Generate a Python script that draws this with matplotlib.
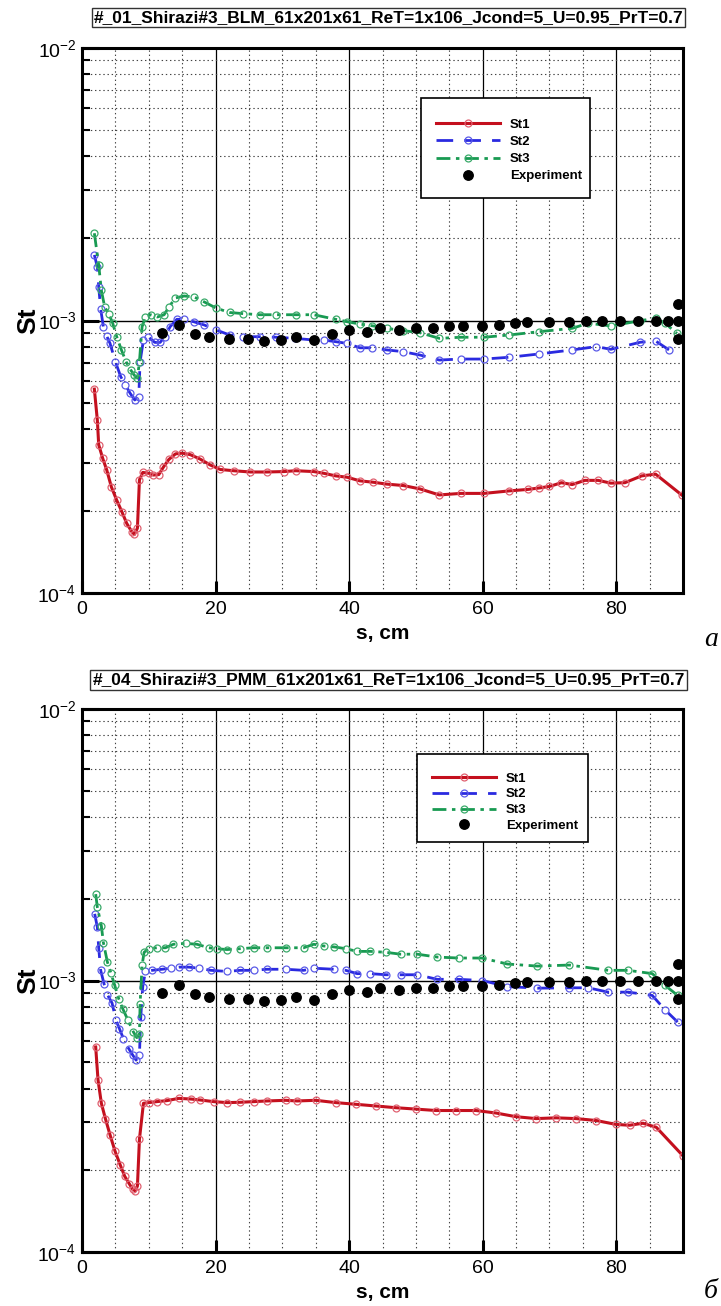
import matplotlib
matplotlib.use("Agg")
import matplotlib.pyplot as plt
from matplotlib.ticker import FixedLocator, NullFormatter, FuncFormatter
from matplotlib.patches import Rectangle
import numpy as np

plt.rcParams['font.family'] = ['Liberation Sans', 'DejaVu Sans']
plt.rcParams['mathtext.fontset'] = 'custom'
plt.rcParams['mathtext.rm'] = 'Liberation Sans'
plt.rcParams['mathtext.it'] = 'Liberation Sans:italic'
plt.rcParams['mathtext.bf'] = 'Liberation Sans:bold'
plt.rcParams['lines.scale_dashes'] = False

# ---------------- data (panel a, BLM) ----------------
a_st1_s = [1.85, 2.3, 2.5, 3.1, 3.7, 4.4, 5.2, 5.96, 6.7, 7.45, 7.85, 8.3, 8.6, 9.1, 10.0, 10.7, 11.5, 12.2,
           13.0, 14.0, 15.0, 16.2, 17.7, 19.2, 20.7, 22.7, 25.2, 27.7, 30.2, 32.0, 34.7, 36.2, 38.0, 39.7,
           41.6, 43.6, 45.6, 48.1, 50.6, 53.5, 56.7, 60.2, 64.0, 66.8, 68.5, 70.0, 71.8, 73.4, 75.3, 77.3,
           79.2, 81.3, 83.8, 85.9, 89.8]
a_st1_v = [5.6, 4.3, 3.5, 3.12, 2.83, 2.45, 2.19, 1.99, 1.80, 1.68, 1.64, 1.73, 2.6, 2.77, 2.75, 2.71, 2.72, 2.9,
           3.09, 3.24, 3.26, 3.22, 3.10, 2.95, 2.84, 2.81, 2.78, 2.78, 2.79, 2.81, 2.79, 2.75, 2.69, 2.66,
           2.58, 2.55, 2.51, 2.48, 2.41, 2.29, 2.32, 2.32, 2.37, 2.40, 2.43, 2.46, 2.54, 2.50, 2.59, 2.59,
           2.53, 2.54, 2.69, 2.73, 2.29]

a_st2_s = [1.85, 2.3, 2.5, 2.8, 3.2, 3.7, 4.2, 5.0, 5.8, 6.5, 7.2, 7.9, 8.5, 8.7, 9.2, 9.9, 10.9, 11.7, 12.4,
           13.2, 14.2, 15.2, 16.7, 18.3, 20.1, 22.1, 24.1, 26.6, 29.1, 31.9, 34.7, 36.2, 38.0, 39.7, 41.6,
           43.4, 45.6, 48.0, 50.6, 53.5, 56.7, 60.2, 64.0, 68.5, 73.4, 77.0, 79.2, 83.6, 85.9, 87.9]
a_st2_v = [17.4, 15.7, 13.3, 11.0, 9.49, 8.77, 8.24, 7.06, 6.22, 5.80, 5.41, 5.11, 5.25, 7.06, 8.48, 8.72,
           8.31, 8.31, 8.72, 9.49, 10.1, 10.1, 9.9, 9.63, 9.23, 8.85, 8.72, 8.72, 8.68, 8.6, 8.48, 8.48,
           8.36, 8.24, 7.94, 7.94, 7.80, 7.69, 7.47, 7.16, 7.22, 7.22, 7.33, 7.54, 7.80, 8.02, 7.84, 8.32,
           8.41, 7.80]

a_st3_s = [1.85, 2.5, 2.9, 3.4, 4.0, 4.6, 5.2, 5.9, 6.6, 7.3, 7.8, 8.3, 8.6, 9.0, 9.5, 10.3, 11.3, 12.3, 13.0,
           14.0, 15.3, 16.8, 18.3, 20.1, 22.1, 24.1, 26.6, 29.1, 32.1, 34.7, 38.0, 39.7, 41.6, 43.4, 45.6,
           48.1, 50.6, 53.5, 56.7, 60.2, 64.0, 68.5, 73.4, 75.8, 79.2, 83.6, 85.9, 87.3, 89.1]
a_st3_v = [20.9, 16.0, 12.9, 11.2, 10.6, 9.77, 8.72, 7.80, 7.06, 6.58, 6.31, 6.14, 7.06, 9.49, 10.3, 10.5,
           10.3, 10.5, 11.2, 12.1, 12.3, 12.2, 11.7, 11.1, 10.7, 10.6, 10.5, 10.5, 10.5, 10.5, 10.1, 9.9,
           9.7, 9.57, 9.36, 9.18, 9.02, 8.6, 8.68, 8.68, 8.85, 9.1, 9.36, 9.77, 9.55, 9.98, 10.2, 9.77, 8.97]

# ---------------- data (panel б, PMM) ----------------
b_st1_s = [2.05, 2.4, 2.9, 3.5, 4.2, 4.95, 5.7, 6.4, 7.1, 7.6, 7.96, 8.3, 8.6, 9.2, 10.0, 11.2, 12.7, 14.5,
           16.3, 17.7, 19.7, 21.7, 23.7, 25.7, 27.7, 30.5, 32.2, 35.0, 38.0, 41.0, 44.0, 47.0, 50.0, 53.0,
           56.0, 59.0, 62.0, 65.0, 68.0, 71.0, 74.0, 77.0, 80.0, 82.0, 84.0, 86.0, 90.0]
b_st1_v = [5.69, 4.3, 3.53, 3.1, 2.7, 2.35, 2.1, 1.9, 1.78, 1.70, 1.68, 1.75, 2.6, 3.53, 3.55, 3.58, 3.61,
           3.68, 3.66, 3.63, 3.58, 3.55, 3.56, 3.58, 3.6, 3.62, 3.6, 3.62, 3.55, 3.5, 3.45, 3.40, 3.36, 3.32,
           3.32, 3.32, 3.25, 3.15, 3.1, 3.12, 3.1, 3.05, 2.95, 2.93, 2.98, 2.88, 2.26]

b_st2_s = [1.9, 2.3, 2.5, 2.8, 3.3, 3.8, 4.5, 5.1, 5.6, 6.2, 7.0, 7.6, 8.1, 8.6, 8.8, 9.1, 9.5, 10.5, 12.0,
           13.3, 14.5, 16.0, 17.5, 19.3, 21.7, 23.7, 25.7, 27.7, 30.5, 33.2, 34.7, 37.7, 39.5, 41.2, 43.2,
           45.5, 47.7, 50.2, 53.2, 56.4, 59.9, 63.7, 68.2, 73.0, 75.8, 78.8, 81.8, 85.4, 87.3, 89.2]
b_st2_v = [17.6, 15.7, 13.2, 10.9, 9.72, 8.87, 8.26, 7.13, 6.65, 6.11, 5.61, 5.31, 5.09, 5.31, 7.33, 9.5,
           10.8, 10.9, 11.0, 11.1, 11.2, 11.2, 11.1, 10.9, 10.8, 10.9, 10.9, 11.0, 11.0, 10.9, 11.1, 11.0,
           10.9, 10.6, 10.6, 10.5, 10.5, 10.5, 10.1, 10.1, 10.0, 9.5, 9.37, 9.4, 9.4, 9.06, 9.06, 8.81, 7.8,
           7.03]

b_st3_s = [2.05, 2.3, 2.9, 3.2, 3.8, 4.3, 4.9, 5.5, 6.1, 6.9, 7.7, 8.2, 8.6, 8.7, 9.0, 9.3, 10.0, 11.2, 12.5,
           13.7, 15.5, 17.2, 19.0, 20.2, 21.7, 23.7, 25.7, 27.7, 30.5, 33.2, 34.7, 36.2, 37.7, 39.5, 41.2,
           43.2, 45.5, 47.7, 50.2, 53.2, 56.4, 59.9, 63.7, 68.2, 73.0, 78.8, 81.8, 85.4, 87.3, 89.2]
b_st3_v = [20.8, 18.6, 15.9, 13.8, 11.7, 10.7, 9.6, 8.57, 7.87, 7.13, 6.46, 6.16, 6.34, 8.21, 11.4, 12.7,
           13.1, 13.2, 13.2, 13.6, 13.7, 13.6, 13.2, 13.1, 13.0, 13.1, 13.2, 13.2, 13.2, 13.2, 13.6, 13.4,
           13.3, 13.1, 12.8, 12.8, 12.7, 12.5, 12.5, 12.2, 12.1, 12.1, 11.5, 11.3, 11.4, 10.9, 10.9, 10.6,
           9.6, 8.81]

# experiment (same in both panels)
exp_s = [12.0, 14.5, 16.9, 19.0, 22.0, 24.8, 27.2, 29.8, 32.0, 34.8, 37.5, 40.0, 42.7, 44.6, 47.4, 50.0,
         52.5, 55.0, 57.1, 59.9, 62.5, 64.9, 66.7, 70.0, 72.9, 75.5, 77.8, 80.6, 83.3, 86.0, 87.8, 89.3,
         89.3, 89.3]
exp_v = [8.98, 9.63, 8.90, 8.70, 8.52, 8.52, 8.38, 8.50, 8.70, 8.47, 8.93, 9.25, 9.07, 9.41, 9.25, 9.38,
         9.38, 9.57, 9.57, 9.57, 9.65, 9.78, 9.84, 9.84, 9.84, 9.99, 9.92, 9.92, 9.99, 9.92, 9.92, 9.99,
         11.5, 8.55]

titles = ["#_01_Shirazi#3_BLM_61x201x61_ReT=1x106_Jcond=5_U=0.95_PrT=0.7",
          "#_04_Shirazi#3_PMM_61x201x61_ReT=1x106_Jcond=5_U=0.95_PrT=0.7"]
panel_letters = ["а", "б"]
legend_labels = ["St1", "St2", "St3", "Experiment"]
xticks = [0, 20, 40, 60, 80]

RED, BLUE, GREEN = "#c4101e", "#2a2ae0", "#189a52"

W, H = 721, 1306
fig = plt.figure(figsize=(W / 100, H / 100), dpi=100)

def fx(px):
    return px / W

def fy(py):
    return 1 - py / H

panels = [
    dict(top=48, bot=593, title_y=17.5, box=(421, 98, 590, 198), first=125, lspace=0.38, letter_y=640,
         d=[(a_st1_s, a_st1_v), (a_st2_s, a_st2_v), (a_st3_s, a_st3_v)]),
    dict(top=709, bot=1252, title_y=680, box=(417, 754, 588, 842), first=779, lspace=0.27, letter_y=1292,
         d=[(b_st1_s, b_st1_v), (b_st2_s, b_st2_v), (b_st3_s, b_st3_v)]),
]
L, R = 82, 683
LEG_FS = 9.5
LEG_PX = LEG_FS * 100 / 72

for i, p in enumerate(panels):
    ax = fig.add_axes([fx(L), fy(p['bot']), fx(R) - fx(L), fy(p['top']) - fy(p['bot'])])
    ax.set_yscale('log')
    ax.set_xlim(0, 90)
    ax.set_ylim(1e-4, 1e-2)

    def ax_x(px):
        return (px - L) / (R - L)

    def ax_y(py):
        return (p['bot'] - py) / (p['bot'] - p['top'])

    # grid
    for xv in np.arange(5, 90, 5):
        if xv % 20 == 0:
            ax.axvline(xv, color='black', lw=0.9, zorder=1)
        else:
            ax.axvline(xv, color='#444444', lw=0.8, ls=(0, (1, 2)), zorder=1)
    for dec in [1e-4, 1e-3]:
        for m in range(2, 10):
            ax.axhline(m * dec, color='#444444', lw=0.8, ls=(0, (1, 2)), zorder=1)
    ax.axhline(1e-3, color='black', lw=1.0, zorder=1)

    (s1, v1), (s2, v2), (s3, v3) = p['d']
    v1 = np.array(v1) * 1e-4
    v2 = np.array(v2) * 1e-4
    v3 = np.array(v3) * 1e-4
    h1, = ax.plot(s1, v1, color=RED, lw=2.2, marker='o', ms=5, mfc='none', mec='#e06070', mew=0.9,
                  zorder=4, label=legend_labels[0])
    h2, = ax.plot(s2, v2, color=BLUE, lw=2.0, ls=(0, (12, 8)), marker='o', ms=5, mfc='none',
                  mec='#5a5ae8', mew=0.9, zorder=4, label=legend_labels[1])
    h3, = ax.plot(s3, v3, color=GREEN, lw=2.0, ls=(0, (10, 4, 2.5, 4)), marker='o', ms=5, mfc='none',
                  mec='#3aaa6a', mew=0.9, zorder=4, label=legend_labels[2])
    h4, = ax.plot(exp_s, np.array(exp_v) * 1e-4, ls='none', marker='o', ms=6.8, color='black',
                  zorder=5, label=legend_labels[3])

    # ticks
    ax.xaxis.set_major_locator(FixedLocator(xticks))
    ax.xaxis.set_minor_locator(FixedLocator([]))
    ax.yaxis.set_major_locator(FixedLocator([1e-4, 1e-3, 1e-2]))
    ax.yaxis.set_minor_locator(FixedLocator([m * d for d in [1e-4, 1e-3] for m in range(2, 10)]))
    ax.yaxis.set_minor_formatter(NullFormatter())
    ax.yaxis.set_major_formatter(FuncFormatter(lambda v, pos: r"$10^{%d}$" % int(round(np.log10(v)))))
    ax.tick_params(axis='x', which='major', direction='in', length=9, width=2.2, labelsize=14, pad=6)
    ax.tick_params(axis='y', which='major', direction='in', length=12, width=2.2, labelsize=14, pad=4)
    ax.tick_params(axis='y', which='minor', direction='in', length=6, width=1.5)
    for sp in ax.spines.values():
        sp.set_linewidth(2.2)
        sp.set_zorder(6)

    ax.set_xlabel("s, cm", fontsize=15, fontweight='bold', labelpad=4)
    ax.set_ylabel("St", fontsize=19, fontweight='bold', labelpad=-2)

    # legend frame (drawn as a rectangle) and frameless legend inside it
    bx0, by0, bx1, by1 = p['box']
    ax.add_patch(Rectangle((ax_x(bx0), ax_y(by1)), ax_x(bx1) - ax_x(bx0), ax_y(by0) - ax_y(by1),
                           transform=ax.transAxes, fc='white', ec='black', lw=1.2, zorder=7))
    leg = ax.legend(handles=[h1, h2, h3, h4], loc='upper left',
                    bbox_to_anchor=(ax_x(bx0 + 15), ax_y(p['first'] - LEG_PX / 2)),
                    frameon=False, borderpad=0, borderaxespad=0,
                    labelspacing=p['lspace'], handlelength=4.85, handletextpad=0.76, numpoints=1,
                    prop=dict(family='Liberation Sans', weight='bold', size=LEG_FS))
    leg.set_zorder(8)

    fig.text(fx((95 + 682) / 2), fy(p['title_y']), titles[i], ha='center', va='center', fontsize=12.5,
             fontweight='bold', family=['Liberation Sans Narrow', 'Liberation Sans'],
             bbox=dict(boxstyle='square,pad=0.12', fc='white', ec='#333333', lw=1))
    fig.text(fx(704), fy(p['letter_y']), panel_letters[i], ha='left', va='center', fontsize=20,
             style='italic', family=['Liberation Serif', 'DejaVu Serif'])

fig.savefig("out.png", dpi=100)
